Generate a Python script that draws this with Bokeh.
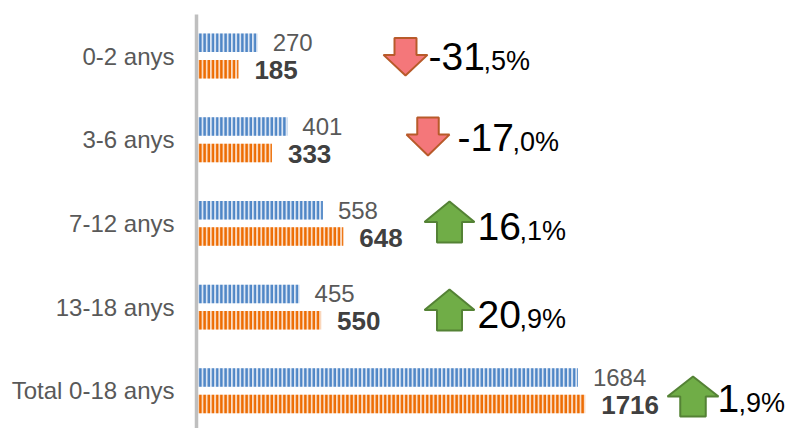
from bokeh.plotting import figure
from bokeh.models import Range1d, FixedTicker, ColumnDataSource
from bokeh.core.properties import value
from bokeh.embed import file_html
from bokeh.resources import INLINE

categories = ["0-2 anys", "3-6 anys", "7-12 anys", "13-18 anys", "Total 0-18 anys"]
series_a = [270, 401, 558, 455, 1684]
series_b = [185, 333, 648, 550, 1716]
pct_int = ["-31", "-17", "16", "20", "1"]
pct_dec = [",5%", ",0%", ",1%", ",9%", ",9%"]
pct_dir = ["down", "down", "up", "up", "up"]

W, H = 786, 428
LEFT, TOP = 196, 14
PX_PER_X = 0.2265
ROW_0, ROW_STEP = 55.5, 83.7
XR = Range1d(0, (W - LEFT) / PX_PER_X)
YR = Range1d((H - ROW_0) / ROW_STEP, (TOP - ROW_0) / ROW_STEP)

def dx(px):
    return (px - LEFT) / PX_PER_X

def dy(px):
    return (px - ROW_0) / ROW_STEP

p = figure(width=W, height=H, x_range=XR, y_range=YR, output_backend="svg",
           toolbar_location=None, min_border_left=LEFT, min_border_top=TOP,
           min_border_right=0, min_border_bottom=0, outline_line_color=None,
           margin=(0, 0, 0, 0), background_fill_color="white")
p.xaxis.visible = False
p.xgrid.visible = False
p.ygrid.visible = False
ax = p.yaxis[0]
ax.ticker = FixedTicker(ticks=list(range(len(categories))))
ax.major_label_overrides = {i: c for i, c in enumerate(categories)}
ax.major_tick_line_color = None
ax.minor_tick_line_color = None
ax.axis_line_color = "#BFBFBF"
ax.axis_line_width = 3.5
ax.major_label_text_font = "Liberation Sans"
ax.major_label_text_font_size = "24px"
ax.major_label_text_color = "#595959"
ax.major_label_standoff = 16

rows = list(range(len(categories)))
OFF = 13.2 / ROW_STEP
BAR_H = 18.5 / ROW_STEP
src = ColumnDataSource(dict(
    a=series_a, b=series_b,
    ya=[r - OFF for r in rows], yb=[r + OFF for r in rows],
    la=[str(v) for v in series_a], lb=[str(v) for v in series_b],
))
p.hbar(y="ya", right="a", left=0, height=BAR_H, source=src, fill_color="#DCE6F4", line_color=None,
       hatch_pattern="vertical_line", hatch_color="#4F86C6", hatch_scale=4.2, hatch_weight=2.6)
p.hbar(y="yb", right="b", left=0, height=BAR_H, source=src, fill_color="#FBDCC4", line_color=None,
       hatch_pattern="vertical_line", hatch_color="#ED6C02", hatch_scale=4.2, hatch_weight=2.6)
p.text(x="a", y="ya", text="la", source=src, x_offset=15, y_offset=0, text_baseline="middle",
       text_font=value("Liberation Sans"), text_font_size="24px", text_color="#595959")
p.text(x="b", y="yb", text="lb", source=src, x_offset=16, y_offset=1, text_baseline="middle",
       text_font=value("Liberation Sans"), text_font_size="26px", text_font_style="bold",
       text_color="#404040")

# block arrows: centre x, top y, width, height in page pixels
ARROW_BOX = [(405, 37.5, 44, 37.5), (427.5, 117, 43, 38), (449, 201, 50, 41), (449, 289, 50, 41), (692.5, 376, 51, 40)]
for d, (cx, top, w, h) in zip(pct_dir, ARROW_BOX):
    sw = w * 0.25
    head = h * 0.5
    if d == "down":
        xs = [cx - sw, cx + sw, cx + sw, cx + w / 2, cx, cx - w / 2, cx - sw]
        ys = [top, top, top + h - head * 1.1, top + h - head * 1.1, top + h, top + h - head * 1.1, top + h - head * 1.1]
        fill, line = "#F4777A", "#B85A2A"
    else:
        xs = [cx, cx + w / 2, cx + sw, cx + sw, cx - sw, cx - sw, cx - w / 2]
        ys = [top, top + head, top + head, top + h, top + h, top + head, top + head]
        fill, line = "#70AD47", "#548235"
    p.patch([dx(x) for x in xs], [dy(y) for y in ys], fill_color=fill, line_color=line, line_width=2)

# percentage labels: start x and baseline y in page pixels
INT_X = [428, 457, 477, 477, 717]
DEC_X = [483, 512, 519, 519, 738]
BASE_Y = [71, 152, 241, 329, 413]
INT_SIZE, DEC_SIZE = 39, 27
p.text(x=[dx(x) for x in INT_X], y=[dy(y - 0.38 * INT_SIZE) for y in BASE_Y], text=pct_int, text_baseline="alphabetic",
       text_font=value("Liberation Sans"), text_font_size=f"{INT_SIZE}px", text_color="#000000")
p.text(x=[dx(x) for x in DEC_X], y=[dy(y - 0.38 * DEC_SIZE) for y in BASE_Y], text=pct_dec, text_baseline="alphabetic",
       text_font=value("Liberation Sans"), text_font_size=f"{DEC_SIZE}px", text_color="#000000")

open("out.html", "w").write(file_html(p, INLINE))
